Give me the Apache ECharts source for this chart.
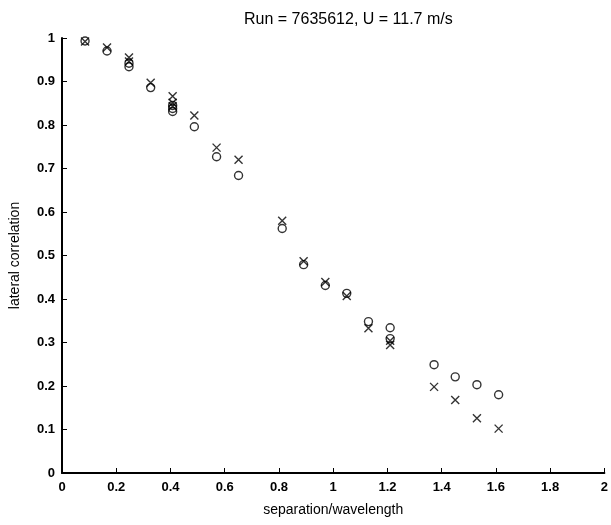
<!DOCTYPE html>
<html><head><meta charset="utf-8">
<script src="https://cdn.jsdelivr.net/npm/echarts@6/dist/echarts.min.js"></script>
<style>html,body{margin:0;padding:0;background:#fff}#c{width:611px;height:525px}</style>
</head><body><div id="c"></div>
<script>
const titleText = 'Run = 7635612, U = 11.7 m/s';
const xName = 'separation/wavelength';
const yName = 'lateral correlation';
// circles series
const circleX = [0.085,0.166,0.247,0.247,0.327,0.408,0.408,0.408,0.488,0.570,0.651,0.812,0.891,0.971,1.050,1.130,1.210,1.210,1.372,1.450,1.530,1.610];
const circleY = [0.993,0.970,0.942,0.934,0.886,0.845,0.838,0.831,0.796,0.727,0.684,0.562,0.479,0.431,0.413,0.348,0.334,0.309,0.249,0.221,0.203,0.180];
// crosses series
const crossX = [0.085,0.166,0.247,0.247,0.327,0.408,0.408,0.408,0.488,0.570,0.651,0.812,0.891,0.971,1.050,1.130,1.210,1.210,1.372,1.450,1.530,1.610];
const crossY = [0.992,0.978,0.955,0.946,0.897,0.866,0.851,0.843,0.822,0.748,0.720,0.580,0.487,0.439,0.407,0.333,0.304,0.294,0.198,0.168,0.126,0.102];

const chart = echarts.init(document.getElementById('c'), null, {renderer:'canvas'});
const font = 'Liberation Sans, Arial, Helvetica, sans-serif';
chart.setOption({
  animation:false,
  backgroundColor:'#fff',
  title:{text:titleText, left:239, top:7, textStyle:{fontFamily:font, fontSize:16, fontWeight:'normal', color:'#000'}},
  grid:{left:61, right:4, top:38, bottom:52},
  xAxis:{type:'value', min:0, max:2, interval:0.2, name:xName, nameLocation:'middle', nameGap:30,
    nameTextStyle:{fontFamily:font, fontSize:14, color:'#000'},
    axisLine:{lineStyle:{color:'#000', width:2}},
    axisTick:{inside:true, length:5, lineStyle:{color:'#000'}},
    splitLine:{show:false},
    axisLabel:{fontFamily:font, fontSize:13, fontWeight:'bold', color:'#000', margin:8,
      formatter:v=>String(Math.round(v*10)/10)}},
  yAxis:{type:'value', min:0, max:1, interval:0.1, name:yName, nameLocation:'middle', nameGap:40,
    nameTextStyle:{fontFamily:font, fontSize:14, color:'#000'},
    axisLine:{lineStyle:{color:'#000', width:2}},
    axisTick:{inside:true, length:5, lineStyle:{color:'#000'}},
    splitLine:{show:false},
    axisLabel:{fontFamily:font, fontSize:13, fontWeight:'bold', color:'#000', margin:7,
      formatter:v=>String(Math.round(v*10)/10)}},
  series:[
    {type:'scatter', data:circleX.map((x,i)=>[x,circleY[i]]), symbol:'circle', symbolSize:8,
      itemStyle:{color:'transparent', borderColor:'#000', borderWidth:1.4}},
    {type:'scatter', data:crossX.map((x,i)=>[x,crossY[i]]), symbol:'path://M0,0L10,10M10,0L0,10', symbolSize:8,
      itemStyle:{color:'transparent', borderColor:'#000', borderWidth:1.4}}
  ]
});
</script></body></html>
